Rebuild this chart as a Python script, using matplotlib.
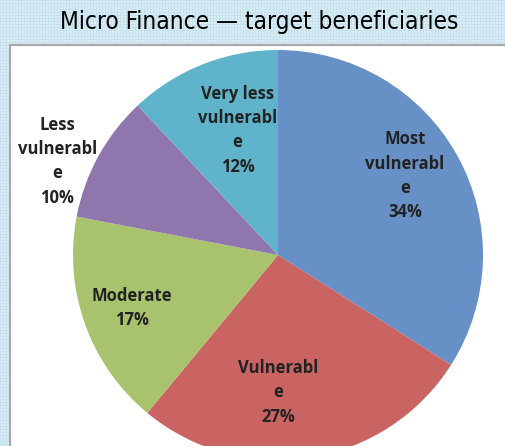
import matplotlib
matplotlib.use("Agg")
import matplotlib.pyplot as plt
import matplotlib.patches as mpatches
import numpy as np

# donnees du camembert
categories = ["Most\nvulnerabl\ne", "Vulnerabl\ne", "Moderate", "Less\nvulnerabl\ne", "Very less\nvulnerabl\ne"]
values = [34, 27, 17, 10, 12]
colors = ["#6790c6", "#c96463", "#a8c26d", "#8f77ae", "#5fb4cc"]
title = "Micro Finance \u2014 target beneficiaries"

# position des etiquettes (rayon relatif, angle en degres)
label_pos = [(0.73, 32), (0.67, -90), (0.76, -160), (1.17, 157), (0.64, 108)]

W, H = 506, 446
fig = plt.figure(figsize=(W / 100, H / 100), dpi=100)

# fond quadrille bleu clair
bg = np.ones((H, W, 3)) * np.array([0.86, 0.93, 0.96])
bg[::3, :, :] = [0.78, 0.89, 0.94]
bg[:, ::3, :] = [0.78, 0.89, 0.94]
fig.figimage(bg, 0, 0, zorder=0)

# panneau blanc
panel = mpatches.Rectangle((10 / W, -0.1), 1.0, (H - 45) / H + 0.1, transform=fig.transFigure,
                           facecolor="white", edgecolor="#a8a8a8", linewidth=1.5, zorder=1)
fig.patches.append(panel)

fig.text(259 / W, 1 - 22 / H, title, ha="center", va="center", fontsize=17.5,
         family="DejaVu Sans", stretch="condensed", color="black")

cx, cy, r = 278, 255, 205
ax = fig.add_axes([(cx - r) / W, (H - cy - r) / H, 2 * r / W, 2 * r / H])
ax.set_zorder(2)
ax.pie(values, colors=colors, startangle=90, counterclock=False, radius=1,
       wedgeprops=dict(linewidth=0))
ax.set_xlim(-1, 1)
ax.set_ylim(-1, 1)
ax.axis("off")

for cat, v, (rr, ang) in zip(categories, values, label_pos):
    a = np.deg2rad(ang)
    ax.text(rr * np.cos(a), rr * np.sin(a), f"{cat}\n{v}%", ha="center", va="center",
            fontsize=12, fontweight="bold", color="#222222", family="Open Sans",
            linespacing=1.45, clip_on=False)

fig.savefig("out.png", dpi=100)
